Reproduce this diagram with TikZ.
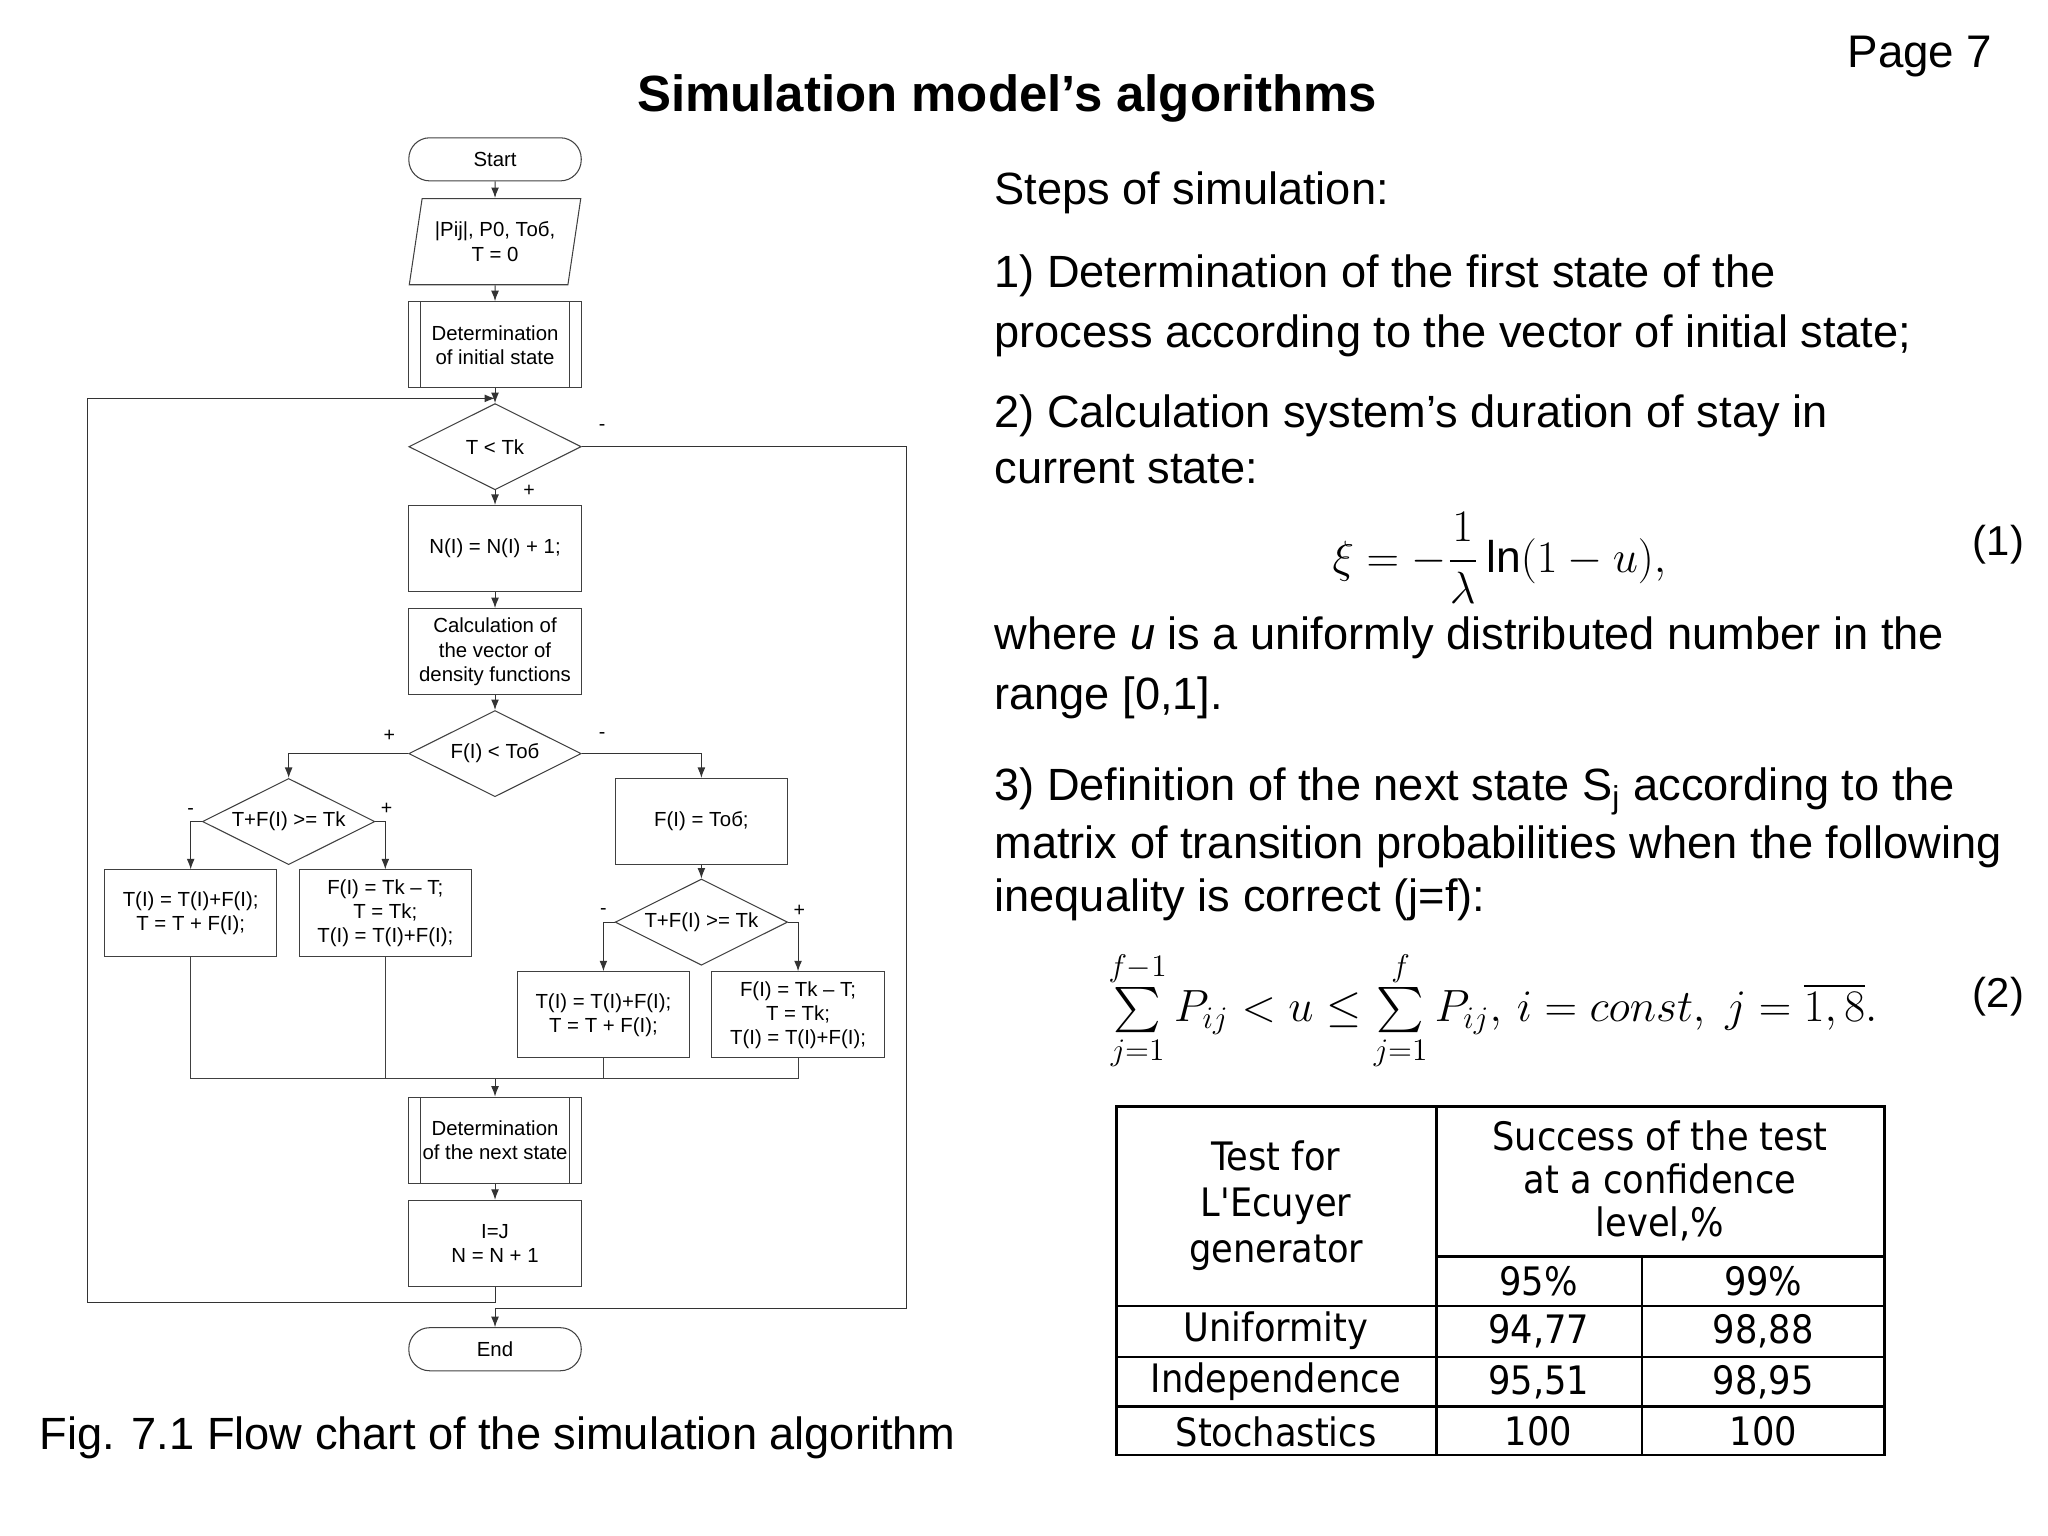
\documentclass[tikz,border=0pt]{standalone}
\usepackage{fontspec}
\setmainfont{Liberation Sans}
\newfontfamily\tabfont{DejaVu Sans Condensed}
\usepackage{amsmath}
\usetikzlibrary{shapes.geometric,arrows.meta}
\begin{document}
\begin{tikzpicture}[x=0.5pt,y=-0.5pt,
  fc/.style={draw=black!75,line width=0.4pt,align=center,inner sep=1pt,
    font=\fontsize{7.8}{9.2}\selectfont,minimum width=66pt,minimum height=33pt},
  box/.style={fc,rectangle},
  term/.style={fc,rectangle,rounded corners=8pt,minimum height=16.5pt},
  io/.style={fc,trapezium,trapezium left angle=76,trapezium right angle=104,trapezium stretches=true},
  dia/.style={fc,diamond,aspect=2,inner sep=0pt},
  pre/.style={box,path picture={
    \draw[black!75] ([xshift=4.5pt]path picture bounding box.north west) -- ([xshift=4.5pt]path picture bounding box.south west);
    \draw[black!75] ([xshift=-4.5pt]path picture bounding box.north east) -- ([xshift=-4.5pt]path picture bounding box.south east);}},
  sg/.style={font=\fontsize{7.5}{8}\selectfont,inner sep=0pt},
  arr/.style={-{Latex[length=4pt,width=3pt]},black!80,line width=0.4pt},
  ln/.style={black!75,line width=0.4pt},
  txt/.style={anchor=west,font=\fontsize{17.3}{19}\selectfont,inner sep=0pt},
  tl/.style={font=\tabfont\fontsize{15}{16.5}\selectfont,align=center,inner sep=0pt}]
\useasboundingbox (0,0) rectangle (1568,1176);

% flowchart
\node[term] (start) at (379,122) {Start};
\node[io] (in) at (379,185) {|Pij|, P0, Тоб,\\T = 0};
\node[pre] (det1) at (379,264) {Determination\\of initial state};
\node[dia] (d1) at (379,342) {T < Tk};
\node[box] (n1) at (379,420) {N(I) = N(I) + 1;};
\node[box] (calc) at (379,499) {Calculation of\\the vector of\\density functions};
\node[dia] (d2) at (379,577) {F(I) < Тоб};
\node[dia] (d3) at (221,629) {T+F(I) >= Tk};
\node[box] (L1) at (146,699) {T(I) = T(I)+F(I);\\T = T + F(I);};
\node[box] (L2) at (295,699) {F(I) = Tk – T;\\T = Tk;\\T(I) = T(I)+F(I);};
\node[box] (fb) at (537,629) {F(I) = Тоб;};
\node[dia] (d4) at (537,706) {T+F(I) >= Tk};
\node[box] (R1) at (462,777) {T(I) = T(I)+F(I);\\T = T + F(I);};
\node[box] (R2) at (611,777) {F(I) = Tk – T;\\T = Tk;\\T(I) = T(I)+F(I);};
\node[pre] (det2) at (379,873) {Determination\\of the next state};
\node[box] (ij) at (379,952) {I=J\\N = N + 1};
\node[term] (end) at (379,1033) {End};

\coordinate (lb) at (67,997);
\coordinate (lt) at (67,305);
\coordinate (jn) at (379,305);
\coordinate (rb) at (694,1002);
\coordinate (m) at (379,826);

\draw[arr] (start) -- (in);
\draw[arr] (in) -- (det1);
\draw[arr] (det1) -- (d1);
\draw[arr] (ij.south) |- (lb) -- (lt) -- (jn);
\draw[arr] (d1.east) -| (rb) -| (end.north);
\draw[arr] (d1) -- (n1);
\draw[arr] (n1) -- (calc);
\draw[arr] (calc) -- (d2);
\draw[arr] (d2.west) -| (d3.north);
\draw[arr] (d2.east) -| (fb.north);
\draw[arr] (d3.west) -| (L1.north);
\draw[arr] (d3.east) -| (L2.north);
\draw[arr] (fb) -- (d4);
\draw[arr] (d4.west) -| (R1.north);
\draw[arr] (d4.east) -| (R2.north);
\draw[ln] (L1.south) -- (L1.south |- m) -- (R2.south |- m) -- (R2.south);
\draw[ln] (L2.south) -- (L2.south |- m);
\draw[ln] (R1.south) -- (R1.south |- m);
\draw[arr] (m) -- (det2);
\draw[arr] (det2) -- (ij);

\node[sg] (s1) at (461,327) {-};
\node[sg] (s2) at (405,376) {+};
\node[sg] (s3) at (298,563) {+};
\node[sg] (s4) at (461,563) {-};
\node[sg] (s5) at (146,621) {-};
\node[sg] (s6) at (296,619) {+};
\node[sg] (s7) at (462,698) {-};
\node[sg] (s8) at (612,697) {+};

% texts
\node[font=\fontsize{17.5}{20}\selectfont,inner sep=0pt] (page) at (1470,43) {Page 7};
\node[font=\bfseries\fontsize{19.5}{22}\selectfont,inner sep=0pt] (title) at (771,75) {Simulation model’s algorithms};
\node[txt] (t1) at (761,148) {Steps of simulation:};
\node[txt] (t2) at (761,211) {1) Determination of the first state of the};
\node[txt] (t3) at (761,257) {process according to the vector of initial state;};
\node[txt] (t4) at (761,318) {2) Calculation system’s duration of stay in};
\node[txt] (t5) at (761,359) {current state:};
\node[font=\fontsize{17}{19}\selectfont,inner sep=0pt] (eq1) at (1148,427) {$\xi=-\dfrac{1}{\lambda}\ln(1-u),$};
\node[font=\fontsize{16}{18}\selectfont,inner sep=0pt] (n1r) at (1530,417) {(1)};
\node[txt] (t6) at (761,488) {where \textit{u} is a uniformly distributed number in the};
\node[txt] (t7) at (761,534) {range [0,1].};
\node[txt] (t8) at (761,606) {3) Definition of the next state S\textsubscript{j} according to the};
\node[txt] (t9) at (761,648) {matrix of transition probabilities when the following};
\node[txt] (t10) at (761,689) {inequality is correct (j=f):};
\node[font=\fontsize{17.5}{19}\selectfont,inner sep=0pt] (eq2) at (1143,774) {$\sum\limits_{j=1}^{f-1}P_{ij}<u\le\sum\limits_{j=1}^{f}P_{ij},\,i=const,\;j=\overline{1,8}.$};
\node[font=\fontsize{16}{18}\selectfont,inner sep=0pt] (n2r) at (1530,763) {(2)};
\node[font=\fontsize{17.3}{19}\selectfont,inner sep=0pt,anchor=west] (cap) at (30,1101) {Fig. 7.1 Flow chart of the simulation algorithm};

% table
\draw[line width=1pt] (855,847) rectangle (1443,1114);
\draw[line width=1pt] (1100,847) -- (1100,1114);
\draw[line width=1pt] (1257,962) -- (1257,1114);
\draw[line width=1pt] (1100,962) -- (1443,962);
\draw[line width=1pt] (855,1000) -- (1443,1000);
\draw[line width=1pt] (855,1039) -- (1443,1039);
\draw[line width=1pt] (855,1077) -- (1443,1077);
\node[tl] (h1) at (977,923) {Test for\\[1pt]L'Ecuyer\\[1pt]generator};
\node[tl] (h2) at (1271,904) {Success of the test\\at a confidence\\level,\%};
\node[tl] (h3) at (1178,981) {95\%};
\node[tl] (h4) at (1350,981) {99\%};
\node[tl] (r1) at (977,1019) {Uniformity};
\node[tl] (r2) at (977,1058) {Independence};
\node[tl] (r3) at (977,1096) {Stochastics};
\node[tl] (v11) at (1178,1019) {94,77};
\node[tl] (v12) at (1350,1019) {98,88};
\node[tl] (v21) at (1178,1058) {95,51};
\node[tl] (v22) at (1350,1058) {98,95};
\node[tl] (v31) at (1178,1096) {100};
\node[tl] (v32) at (1350,1096) {100};
\end{tikzpicture}
\end{document}
